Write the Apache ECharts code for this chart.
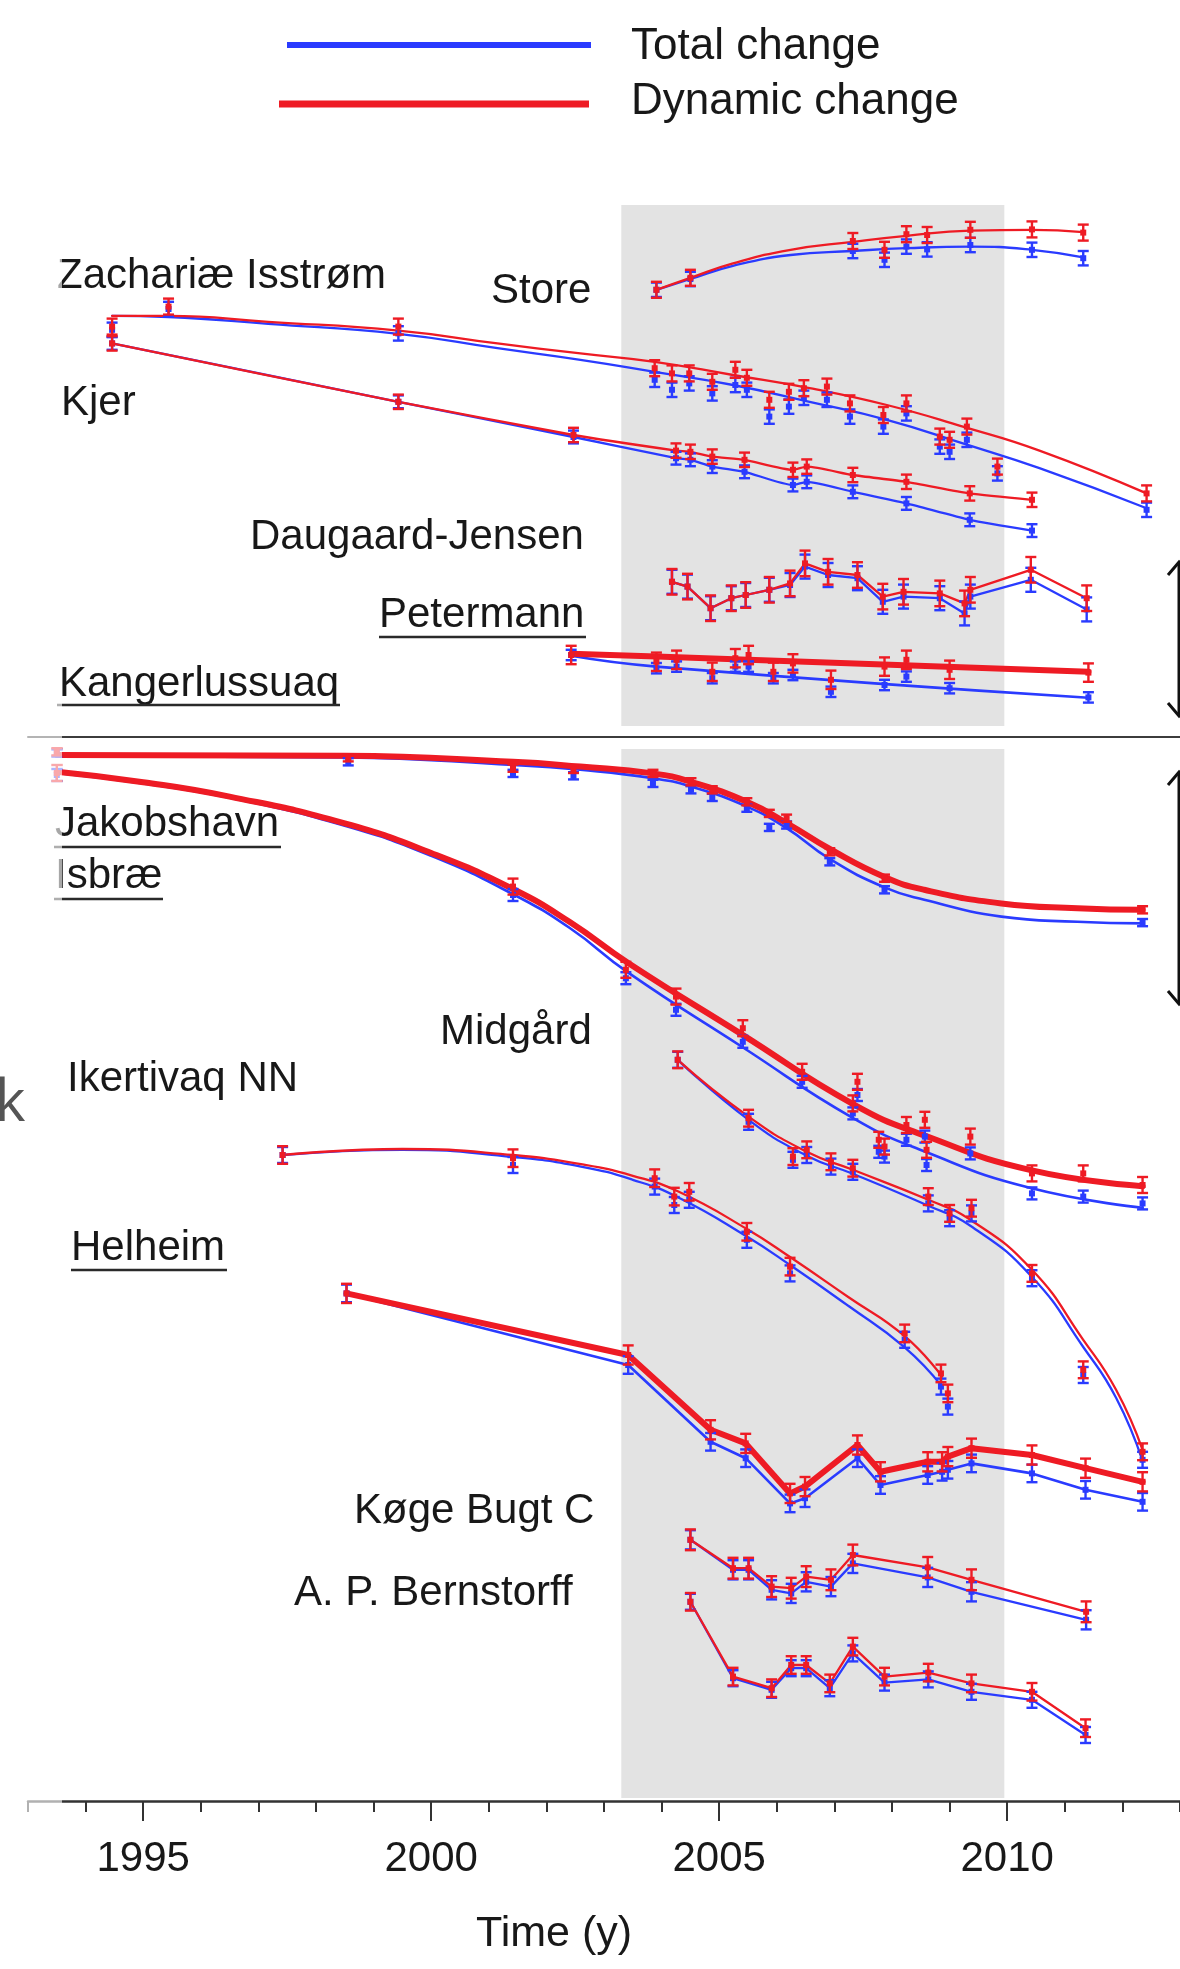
<!DOCTYPE html>
<html>
<head>
<meta charset="utf-8">
<script src="https://cdn.jsdelivr.net/npm/echarts@6/dist/echarts.min.js"></script>
<style>
  html, body { margin: 0; padding: 0; background: #ffffff; }
  #chart { width: 1180px; height: 1969px; }
</style>
</head>
<body>
<div id="chart"></div>
<script>
// ---------------------------------------------------------------------------
// Time axis
// ---------------------------------------------------------------------------
const minorYears = [1993, 1994, 1995, 1996, 1997, 1998, 1999, 2000, 2001, 2002, 2003,
                    2004, 2005, 2006, 2007, 2008, 2009, 2010, 2011, 2012, 2013];
const majorYears = [1995, 2000, 2005, 2010];
const surveyPeriod = [2003.3, 2009.95];

// ---------------------------------------------------------------------------
// Upper block: relative elevation change (m, stacked offsets)
// ---------------------------------------------------------------------------
// Store
const storeYears   = [2003.91, 2004.50, 2007.32, 2007.87, 2008.25, 2008.61, 2009.36, 2010.43, 2011.32];
const storeTotal   = [111.8, 114.5, 121.5, 119.3, 122.6, 121.9, 123.0, 121.8, 119.7];
const storeDynamic = [111.8, 114.8, 124.0, 121.8, 125.7, 125.5, 126.8, 126.9, 126.1];
const storeFitYears   = [2003.91, 2004.50, 2005.24, 2006.24, 2007.32, 2008.25, 2009.36, 2010.43, 2011.32];
const storeFitTotal   = [111.8, 114.5, 117.8, 120.5, 121.5, 122.2, 122.6, 121.8, 119.9];
const storeFitDynamic = [111.8, 114.8, 118.4, 121.8, 123.8, 125.3, 126.6, 126.8, 126.2];
const storeErr = [1.8, 2.0];

// Zachariæ Isstrøm
const zachYears   = [1994.46, 1995.44, 1999.43, 2003.88, 2004.18, 2004.48, 2004.88, 2005.28, 2005.48, 2005.87, 2006.21,
                     2006.47, 2006.87, 2007.27, 2007.85, 2008.25, 2008.83, 2009.00, 2009.30, 2009.83, 2012.42];
const zachTotal   = [101.8, 107.0, 100.9, 89.3, 86.8, 88.4, 85.9, 88.0, 86.8, 80.1, 82.6,
                     84.8, 84.3, 80.1, 77.6, 80.9, 72.6, 71.3, 74.3, 65.9, 56.8];
const zachDynamic = [102.6, 107.6, 102.6, 92.2, 90.9, 90.9, 88.8, 91.8, 89.8, 84.3, 86.3,
                     87.2, 87.6, 83.4, 80.5, 83.4, 75.1, 74.3, 77.6, 67.6, 60.9];
const zachFitYears   = [1994.46, 1995.44, 1997.17, 1999.43, 2001.15, 2002.59, 2003.88, 2005.24, 2006.57, 2007.91, 2009.23, 2010.56, 2012.42];
const zachFitTotal   = [105.3, 105.0, 103.3, 100.8, 97.2, 94.3, 91.3, 88.0, 83.8, 79.3, 73.4, 67.2, 57.2];
const zachFitDynamic = [105.3, 105.3, 103.8, 101.6, 98.4, 95.9, 93.8, 90.5, 87.2, 83.0, 77.6, 71.6, 60.9];
const zachErr = [1.8, 2.0];

// Kjer
const kjerYears   = [1994.46, 1999.43, 2002.47, 2004.25, 2004.50, 2004.88, 2005.44, 2006.28, 2006.52, 2007.32, 2008.25, 2009.35, 2010.43];
const kjerTotal   = [98.4, 83.8, 75.0, 69.7, 69.3, 67.6, 66.3, 63.0, 63.8, 61.3, 58.4, 54.3, 51.6];
const kjerDynamic = [98.4, 83.8, 75.5, 71.6, 71.3, 70.1, 69.3, 66.8, 67.6, 65.5, 63.8, 60.9, 59.3];
const kjerErr = [1.6, 1.8];

// Daugaard-Jensen
const djYears   = [2004.18, 2004.45, 2004.85, 2005.21, 2005.46, 2005.87, 2006.23, 2006.49, 2006.89,
                   2007.40, 2007.84, 2008.20, 2008.83, 2009.26, 2009.36, 2010.41, 2011.38];
const djTotal   = [38.8, 37.6, 32.2, 34.7, 35.5, 36.8, 38.0, 42.6, 40.5, 39.7, 33.8, 35.1, 34.7, 30.9, 35.1, 39.3, 31.9];
const djDynamic = [38.8, 37.6, 32.2, 34.7, 35.5, 36.8, 38.4, 43.4, 41.3, 40.5, 35.1, 36.3, 35.9, 33.4, 36.8, 41.8, 34.7];
const djErr = [3.0, 3.2];

// Petermann
const petYears   = [2002.43, 2003.91, 2004.26, 2004.88, 2005.28, 2005.51, 2005.94, 2006.28, 2006.94, 2007.87, 2008.25, 2009.00, 2011.41];
const petTotal   = [20.5, 17.2, 17.6, 14.7, 17.6, 17.6, 14.7, 15.5, 11.3, 13.0, 15.1, 12.2, 9.9];
const petDynamic = [20.5, 18.8, 19.3, 16.3, 19.7, 20.5, 16.3, 18.4, 14.3, 17.6, 19.3, 16.8, 16.1];
const petFitYears   = [2002.43, 2003.91, 2011.41];
const petFitTotal   = [20.3, 17.6, 9.8];
const petFitDynamic = [20.8, 20.1, 16.3];
const petErr = [1.3, 2.3];

// ---------------------------------------------------------------------------
// Lower block: relative elevation change (m, stacked offsets)
// ---------------------------------------------------------------------------
// Kangerlussuaq
const kangYears   = [1993.5, 1998.56, 2001.42, 2002.47, 2003.85, 2004.51, 2004.88, 2005.48, 2005.87, 2006.17, 2006.92, 2007.87, 2012.35];
const kangTotal   = [262.0, 259.8, 256.9, 256.3, 254.4, 252.8, 250.9, 248.2, 243.4, 244.0, 234.8, 227.8, 219.6];
const kangDynamic = [262.3, 260.8, 258.2, 257.9, 256.9, 254.8, 252.8, 249.8, 246.9, 245.7, 237.3, 230.7, 222.8];
const kangFitYears   = [1993.5, 1998.5, 2001.42, 2002.59, 2003.85, 2004.51, 2005.48, 2006.17, 2006.92, 2007.87, 2008.56, 2009.9, 2011.22, 2012.35];
const kangFitTotal   = [261.3, 260.9, 259.0, 257.8, 255.7, 253.6, 248.6, 243.2, 235.5, 228.4, 225.3, 221.1, 219.8, 219.4];
const kangFitDynamic = [261.5, 261.3, 259.8, 258.6, 256.9, 254.8, 249.8, 244.5, 238.0, 231.0, 227.8, 224.4, 223.2, 222.8];
const kangErr = [0.9, 0.9];

// Jakobshavn Isbræ
const jakYears   = [1993.5, 2001.42, 2003.38, 2004.25, 2005.41, 2006.44, 2007.32, 2007.40, 2007.77,
                    2007.87, 2008.25, 2008.57, 2008.60, 2009.36, 2010.43, 2011.32, 2012.35];
const jakTotal   = [256.5, 226.5, 205.7, 197.8, 189.8, 179.8, 171.9, 176.5, 162.3,
                    161.1, 165.3, 166.1, 159.0, 161.9, 151.9, 151.1, 149.4];
const jakDynamic = [257.0, 228.6, 207.8, 201.1, 193.2, 182.3, 174.4, 179.8, 165.3,
                    163.6, 169.0, 170.3, 162.8, 166.1, 156.9, 156.9, 154.0];
const jakFitYears   = [1993.5, 1995.0, 1996.5, 1998.5, 2000.0, 2001.42, 2002.4, 2003.42, 2005.40, 2007.34, 2008.58, 2010.39, 2012.35];
const jakFitTotal   = [257.0, 254.4, 250.8, 243.8, 236.3, 226.7, 218.3, 207.1, 188.5, 170.6, 162.3, 153.3, 148.3];
const jakFitDynamic = [257.3, 254.7, 251.1, 244.4, 237.0, 228.0, 219.8, 209.5, 191.6, 174.1, 166.3, 157.8, 153.7];
const jakErr = [1.5, 2.0];

// Midgård
const midYears   = [2004.28, 2005.51, 2006.28, 2006.52, 2006.94, 2007.32, 2008.63, 2009.00, 2009.38, 2010.43, 2011.32, 2012.35];
const midTotal   = [185.3, 169.8, 160.3, 161.5, 158.6, 157.3, 149.4, 145.7, 146.9, 130.7, 106.5, 85.3];
const midDynamic = [185.3, 170.7, 161.1, 162.8, 159.8, 158.2, 151.1, 146.9, 148.2, 131.9, 107.8, 87.3];
const midFitYears   = [2004.28, 2005.51, 2006.52, 2007.32, 2008.63, 2009.36, 2010.43, 2011.32, 2011.89, 2012.35];
const midFitTotal   = [185.3, 170.3, 161.3, 156.8, 148.8, 143.8, 131.0, 113.5, 100.8, 85.0];
const midFitDynamic = [185.3, 171.1, 162.3, 157.8, 150.3, 145.3, 132.8, 115.3, 102.8, 87.8];
const midErr = [2.0, 2.1];

// Ikertivaq NN
const ikerYears   = [1997.42, 2001.42, 2003.88, 2004.22, 2004.48, 2005.48, 2006.23, 2008.22, 2008.85, 2008.97];
const ikerTotal   = [161.5, 159.0, 153.6, 149.0, 150.3, 140.3, 131.9, 115.3, 103.6, 98.6];
const ikerDynamic = [161.5, 160.7, 155.7, 151.1, 152.3, 142.3, 133.6, 116.9, 106.9, 101.9];
const ikerFitYears   = [1997.42, 1999.5, 2001.42, 2002.6, 2003.5, 2004.3, 2005.48, 2006.23, 2007.24, 2008.22, 2008.87];
const ikerFitTotal   = [161.5, 162.8, 161.0, 158.6, 155.3, 150.8, 141.1, 134.0, 123.8, 113.4, 103.6];
const ikerFitDynamic = [161.5, 163.0, 161.5, 159.2, 156.3, 152.3, 143.0, 136.0, 126.0, 116.2, 106.1];
const ikerErr = [2.0, 2.2];

// Helheim
const helYears   = [1998.53, 2003.42, 2004.85, 2005.46, 2006.23, 2006.49, 2007.40, 2007.80,
                    2008.62, 2008.87, 2008.97, 2009.38, 2010.43, 2011.36, 2012.35];
const helTotal   = [126.9, 109.0, 89.8, 85.7, 74.4, 75.7, 85.7, 79.0, 81.5, 82.3, 82.8, 84.4, 81.9, 77.8, 74.8];
const helDynamic = [126.9, 111.5, 92.8, 89.4, 76.9, 78.6, 89.0, 82.3, 84.8, 84.8, 86.1, 88.2, 86.5, 83.2, 79.8];
const helErr = [2.2, 2.4];

// Køge Bugt C
const kogeYears   = [2004.50, 2005.24, 2005.51, 2005.91, 2006.25, 2006.51, 2006.94, 2007.32, 2008.62, 2009.38, 2011.37];
const kogeTotal   = [65.3, 57.8, 57.8, 52.8, 51.9, 54.8, 53.6, 59.4, 55.9, 52.3, 45.3];
const kogeDynamic = [65.3, 58.2, 58.2, 53.6, 53.2, 56.1, 55.3, 61.5, 58.4, 55.3, 47.3];
const kogeErr = [2.4, 2.6];

// A. P. Bernstorff
const bernYears   = [2004.50, 2005.24, 2005.91, 2006.25, 2006.51, 2006.92, 2007.32, 2007.87, 2008.63, 2009.38, 2010.43, 2011.36];
const bernTotal   = [49.8, 30.7, 27.8, 33.2, 33.2, 28.2, 36.9, 29.6, 30.4, 27.3, 25.3, 16.5];
const bernDynamic = [49.8, 31.1, 28.2, 34.0, 34.0, 29.4, 38.6, 31.1, 32.1, 29.4, 27.3, 18.2];
const bernErr = [2.0, 2.2];

// ---------------------------------------------------------------------------
// Series setup
// ---------------------------------------------------------------------------
const BLUE = '#2a3bff';
const RED = '#ee1b24';
const FONT = '"Liberation Sans", Arial, Helvetica, sans-serif';

const glaciers = [
  { panel: 0, years: storeYears, total: storeTotal, dynamic: storeDynamic,
    fit: [storeFitYears, storeFitTotal, storeFitDynamic], err: storeErr },
  { panel: 0, years: zachYears, total: zachTotal, dynamic: zachDynamic,
    fit: [zachFitYears, zachFitTotal, zachFitDynamic], err: zachErr },
  { panel: 0, years: kjerYears, total: kjerTotal, dynamic: kjerDynamic, err: kjerErr, smooth: 0.2 },
  { panel: 0, years: djYears, total: djTotal, dynamic: djDynamic, err: djErr },
  { panel: 0, years: petYears, total: petTotal, dynamic: petDynamic,
    fit: [petFitYears, petFitTotal, petFitDynamic], err: petErr, thick: true },
  { panel: 1, years: kangYears, total: kangTotal, dynamic: kangDynamic,
    fit: [kangFitYears, kangFitTotal, kangFitDynamic], err: kangErr, thick: true },
  { panel: 1, years: jakYears, total: jakTotal, dynamic: jakDynamic,
    fit: [jakFitYears, jakFitTotal, jakFitDynamic], err: jakErr, thick: true },
  { panel: 1, years: midYears, total: midTotal, dynamic: midDynamic,
    fit: [midFitYears, midFitTotal, midFitDynamic], err: midErr },
  { panel: 1, years: ikerYears, total: ikerTotal, dynamic: ikerDynamic,
    fit: [ikerFitYears, ikerFitTotal, ikerFitDynamic], err: ikerErr },
  { panel: 1, years: helYears, total: helTotal, dynamic: helDynamic, err: helErr, thick: true },
  { panel: 1, years: kogeYears, total: kogeTotal, dynamic: kogeDynamic, err: kogeErr },
  { panel: 1, years: bernYears, total: bernTotal, dynamic: bernDynamic, err: bernErr }
];

const pairs = (xs, ys) => xs.map((x, i) => [x, ys[i]]);
const withErr = (xs, ys, e) => xs.map((x, i) => [x, ys[i], e]);
const xIndexOf = (panel) => (panel === 0 ? 0 : 1);

// Vertical error bar with caps and a small centre marker
function errorBarRenderer(color) {
  return function (params, api) {
    const x = api.value(0), v = api.value(1), e = api.value(2);
    const top = api.coord([x, v + e]);
    const bot = api.coord([x, v - e]);
    const mid = api.coord([x, v]);
    const hw = 5.5;
    const st = { stroke: color, lineWidth: 2.4, fill: null };
    return {
      type: 'group',
      children: [
        { type: 'line', shape: { x1: top[0], y1: top[1], x2: bot[0], y2: bot[1] }, style: st },
        { type: 'line', shape: { x1: top[0] - hw, y1: top[1], x2: top[0] + hw, y2: top[1] }, style: st },
        { type: 'line', shape: { x1: bot[0] - hw, y1: bot[1], x2: bot[0] + hw, y2: bot[1] }, style: st },
        { type: 'rect', shape: { x: mid[0] - 3, y: mid[1] - 3, width: 6, height: 6 }, style: { fill: color } }
      ]
    };
  };
}

const series = [];

// grey survey-period band, one per block
const bandLimits = [[2.75, 133], [0.75, 263]];
[0, 1].forEach(p => {
  series.push({
    type: 'line', xAxisIndex: xIndexOf(p), yAxisIndex: p, silent: true, z: 0,
    data: [[surveyPeriod[0], bandLimits[p][0]]],
    showSymbol: false, lineStyle: { opacity: 0 },
    markArea: {
      silent: true,
      itemStyle: { color: '#e3e3e3' },
      data: [[{ xAxis: surveyPeriod[0], yAxis: bandLimits[p][0] },
              { xAxis: surveyPeriod[1], yAxis: bandLimits[p][1] }]]
    }
  });
});

function lineSeries(g, which, color, width) {
  const xs = g.fit ? g.fit[0] : g.years;
  const ys = g.fit ? g.fit[which === 'total' ? 1 : 2] : g[which];
  return {
    type: 'line', xAxisIndex: xIndexOf(g.panel), yAxisIndex: g.panel,
    data: pairs(xs, ys), showSymbol: false, silent: true,
    smooth: g.fit ? 0.5 : (g.smooth || false),
    lineStyle: { color, width, cap: 'round', join: 'round' }, z: 2
  };
}

glaciers.forEach(g => series.push(lineSeries(g, 'total', BLUE, g.thick ? 2.6 : 2.3)));
glaciers.forEach(g => series.push(lineSeries(g, 'dynamic', RED, g.thick ? 6 : 2.3)));
glaciers.forEach(g => series.push({
  type: 'custom', xAxisIndex: xIndexOf(g.panel), yAxisIndex: g.panel, silent: true, z: 4,
  data: withErr(g.years, g.total, g.err[0]), encode: { x: 0, y: 1 },
  renderItem: errorBarRenderer(BLUE)
}));
glaciers.forEach(g => series.push({
  type: 'custom', xAxisIndex: xIndexOf(g.panel), yAxisIndex: g.panel, silent: true, z: 5,
  data: withErr(g.years, g.dynamic, g.err[1]), encode: { x: 0, y: 1 },
  renderItem: errorBarRenderer(RED)
}));

// ---------------------------------------------------------------------------
// Annotations
// ---------------------------------------------------------------------------
const labelStyle = (text, size, color) => ({
  text, font: size + 'px ' + FONT, fill: color || '#181818',
  textAlign: 'left', align: 'left', textVerticalAlign: 'middle', verticalAlign: 'middle'
});
const glacierLabels = [
  ['Zachariæ Isstrøm', 57, 276], ['Store', 491, 291], ['Kjer', 61, 403],
  ['Daugaard-Jensen', 250, 537], ['Petermann', 379, 615], ['Kangerlussuaq', 59, 684],
  ['Jakobshavn', 55, 824], ['Isbræ', 55, 876], ['Midgård', 440, 1032],
  ['Ikertivaq NN', 67, 1079], ['Helheim', 71, 1248], ['Køge Bugt C', 354, 1511],
  ['A. P. Bernstorff', 294, 1593]
];
const underlines = [[379, 586, 637], [57, 340, 705], [54, 281, 847], [54, 163, 899], [71, 227, 1270]];

const graphics = [];
glacierLabels.forEach(([t, x, y]) => graphics.push({ type: 'text', x, y, z: 90, style: labelStyle(t, 42) }));
underlines.forEach(([x1, x2, y]) => graphics.push({
  type: 'line', z: 90, shape: { x1, y1: y, x2, y2: y }, style: { stroke: '#2a2a2a', lineWidth: 2.6 }
}));

// legend
graphics.push({ type: 'line', z: 90, shape: { x1: 287, y1: 45, x2: 591, y2: 45 }, style: { stroke: BLUE, lineWidth: 6 } });
graphics.push({ type: 'line', z: 90, shape: { x1: 279, y1: 104, x2: 589, y2: 104 }, style: { stroke: RED, lineWidth: 7 } });
graphics.push({ type: 'text', x: 631, y: 47, z: 90, style: labelStyle('Total change', 44) });
graphics.push({ type: 'text', x: 631, y: 102, z: 90, style: labelStyle('Dynamic change', 44) });

// axis title
graphics.push({ type: 'text', x: 554, y: 1934, z: 90, style: Object.assign(labelStyle('Time (y)', 43), { textAlign: 'center', align: 'center' }) });

// scale arrows at the right edge
[[562, 716], [772, 1004]].forEach(([y1, y2]) => {
  const st = { stroke: '#111', lineWidth: 3, fill: null };
  graphics.push({ type: 'line', z: 90, shape: { x1: 1179, y1, x2: 1179, y2 }, style: st });
  graphics.push({ type: 'polyline', z: 90, shape: { points: [[1168, y1 + 13], [1179, y1], [1190, y1 + 13]] }, style: st });
  graphics.push({ type: 'polyline', z: 90, shape: { points: [[1168, y2 - 13], [1179, y2], [1190, y2 - 13]] }, style: st });
});

// faded strip along the left margin
graphics.push({ type: 'rect', z: 100, shape: { x: 0, y: 150, width: 62, height: 1700 }, style: { fill: 'rgba(255,255,255,0.62)' } });
graphics.push({ type: 'text', x: -5, y: 1104, z: 110, style: Object.assign(labelStyle('k', 58, '#555555'), { font: '58px "Open Sans", Roboto, sans-serif' }) });

// ---------------------------------------------------------------------------
// Chart
// ---------------------------------------------------------------------------
const axisBase = { type: 'value', min: 1993, max: 2013, splitLine: { show: false } };

const option = {
  animation: false,
  backgroundColor: '#ffffff',
  textStyle: { fontFamily: FONT },
  grid: [
    { left: 28, right: 0, top: 205, height: 532, outerBoundsMode: 'none', containLabel: false },
    { left: 28, right: 0, top: 749, height: 1052, outerBoundsMode: 'none', containLabel: false }
  ],
  xAxis: [
    Object.assign({}, axisBase, {
      gridIndex: 0, position: 'bottom',
      axisLine: { show: true, onZero: false, lineStyle: { color: '#3c3c3c', width: 2 } },
      axisTick: { show: false }, axisLabel: { show: false }
    }),
    Object.assign({}, axisBase, {
      gridIndex: 1, position: 'bottom', offset: 0,
      axisLine: { show: true, onZero: false, lineStyle: { color: '#333333', width: 2.5 } },
      axisTick: { show: true, customValues: minorYears, length: 11, lineStyle: { color: '#333333', width: 2 } },
      axisLabel: { show: false }
    }),
    Object.assign({}, axisBase, {
      gridIndex: 1, position: 'bottom', offset: 0,
      axisLine: { show: false, onZero: false },
      axisTick: { show: true, customValues: majorYears, length: 20, lineStyle: { color: '#333333', width: 2 } },
      axisLabel: {
        show: true, customValues: majorYears, formatter: v => String(v),
        margin: 37, fontSize: 42, fontFamily: FONT, color: '#181818'
      }
    })
  ],
  yAxis: [
    { type: 'value', gridIndex: 0, min: 0, max: 133, show: false },
    { type: 'value', gridIndex: 1, min: 0, max: 263, show: false }
  ],
  graphic: { elements: graphics },
  series
};

const chart = echarts.init(document.getElementById('chart'), null, { renderer: 'canvas', width: 1180, height: 1969 });
chart.setOption(option);
</script>
</body>
</html>
